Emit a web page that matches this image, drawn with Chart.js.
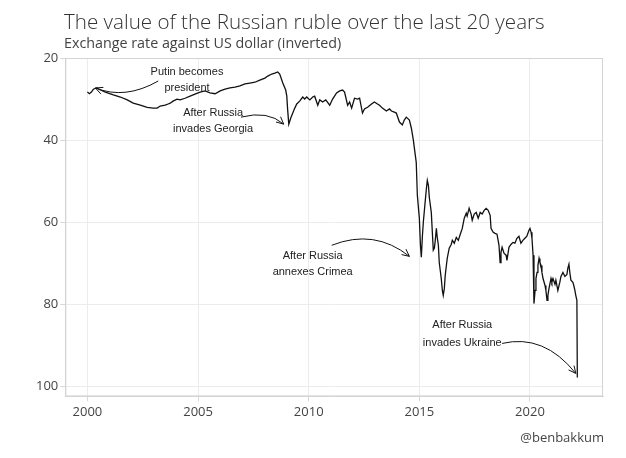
<!DOCTYPE html>
<html>
<head>
<meta charset="utf-8">
<script src="https://cdn.jsdelivr.net/npm/chart.js@4"></script>
<style>
html,body{margin:0;padding:0;background:#fff}
#wrap{width:626px;height:458px;position:relative}
</style>
</head>
<body>
<div id="wrap"><canvas id="c" width="626" height="458"></canvas></div>
<script>
// ---- data ----
const years = [
2000.00,2000.09,2000.18,2000.27,2000.41,2000.59,2000.81,2001.17,2001.49,2001.80,
2002.07,2002.39,2002.70,2002.97,2003.15,2003.29,2003.51,2003.65,2003.74,2003.87,
2004.05,2004.19,2004.41,2004.64,2004.86,2005.09,2005.32,2005.54,2005.77,2006.00,
2006.22,2006.44,2006.67,2006.89,2007.12,2007.34,2007.57,2007.79,2008.02,2008.15,
2008.33,2008.47,2008.60,2008.69,2008.83,2008.96,2009.01,2009.05,2009.10,2009.19,
2009.28,2009.37,2009.46,2009.59,2009.73,2009.82,2009.91,2010.05,2010.18,2010.27,
2010.41,2010.50,2010.63,2010.77,2010.95,2011.08,2011.26,2011.40,2011.53,2011.62,
2011.76,2011.85,2011.94,2012.07,2012.21,2012.30,2012.43,2012.52,2012.66,2012.84,
2012.97,2013.11,2013.20,2013.33,2013.51,2013.65,2013.74,2013.87,2013.96,2014.10,
2014.23,2014.32,2014.41,2014.55,2014.64,2014.73,2014.77,2014.86,2014.91,2014.95,
2015.00,2015.05,2015.09,2015.14,2015.18,2015.27,2015.32,2015.36,2015.41,2015.45,
2015.54,2015.63,2015.68,2015.72,2015.77,2015.81,2015.86,2015.90,2015.99,2016.04,
2016.08,2016.13,2016.17,2016.26,2016.35,2016.44,2016.49,2016.58,2016.67,2016.76,
2016.85,2016.94,2017.03,2017.12,2017.16,2017.25,2017.34,2017.39,2017.48,2017.57,
2017.66,2017.75,2017.84,2017.93,2018.02,2018.11,2018.20,2018.24,2018.33,2018.42,
2018.51,2018.60,2018.65,2018.69,2018.74,2018.83,2018.92,2018.96,2019.05,2019.14,
2019.23,2019.32,2019.41,2019.50,2019.59,2019.68,2019.77,2019.86,2019.95,2020.00,
2020.05,2020.09,2020.14,2020.18,2020.23,2020.27,2020.32,2020.36,2020.41,2020.45,
2020.50,2020.54,2020.59,2020.68,2020.72,2020.77,2020.81,2020.86,2020.95,2020.99,
2021.04,2021.13,2021.17,2021.26,2021.35,2021.40,2021.49,2021.58,2021.67,2021.71,
2021.76,2021.80,2021.85,2021.94,2021.98,2022.03,2022.07,2022.12,2022.14
];
const rubPerUsd = [
28.3,28.7,28.3,27.6,27.3,27.8,28.3,29.0,29.5,30.2,
31.0,31.5,32.0,32.2,32.2,31.7,31.5,31.2,31.0,30.5,
30.0,30.2,29.8,29.3,28.8,28.3,28.0,28.5,28.7,28.0,
27.6,27.3,27.1,26.8,26.3,26.1,25.9,25.4,24.9,24.4,
23.9,23.7,23.4,23.9,26.1,27.8,29.3,32.7,36.1,34.6,
33.4,32.2,31.2,30.5,29.5,30.0,29.5,30.2,29.5,29.3,
31.5,30.2,30.7,30.2,31.5,30.0,28.5,28.0,27.8,28.3,
31.5,30.7,32.2,29.8,30.0,29.8,33.4,32.4,32.0,31.2,
30.7,31.2,31.5,32.2,32.9,32.4,32.9,33.2,33.4,35.6,
36.3,35.1,34.4,35.1,37.1,40.0,41.7,45.4,53.4,55.9,
59.0,65.6,68.5,63.2,60.0,54.6,51.7,49.8,51.0,53.9,
57.6,66.8,66.3,64.4,61.5,63.7,65.6,69.8,73.7,76.6,
77.8,76.1,72.9,68.8,66.3,65.4,64.4,65.1,63.7,64.4,
62.9,61.5,59.0,57.8,58.5,56.6,58.0,59.5,58.0,57.6,
59.0,57.6,58.0,57.1,56.6,57.1,58.3,61.5,62.4,62.7,
62.9,65.6,69.8,67.3,66.1,67.6,68.0,69.3,66.1,65.4,
64.9,65.1,63.9,63.4,65.1,64.4,63.9,63.4,62.0,61.5,
62.4,63.9,68.0,79.8,76.6,73.7,72.2,70.5,68.8,69.8,
70.5,72.2,73.7,75.4,76.6,79.0,77.8,76.1,73.7,74.6,
73.7,75.1,74.1,76.6,74.6,73.2,72.2,73.2,72.7,71.2,
70.2,72.2,74.1,74.6,75.4,76.6,77.8,79.0,97.8
];
const xTickValues = [2000, 2005, 2010, 2015, 2020];
const yTickValues = [20, 40, 60, 80, 100];

const titleText = 'The value of the Russian ruble over the last 20 years';
const subtitleText = 'Exchange rate against US dollar (inverted)';
const creditText = '@benbakkum';

// annotation labels and where they sit (in data units: year, rate)
const noteLines = [
  ['Putin becomes', 'president'],
  ['After Russia', 'invades Georgia'],
  ['After Russia', 'annexes Crimea'],
  ['After Russia', 'invades Ukraine']
];
const noteAt = [[2004.50, 23.4, 27.3],[2005.68, 33.4, 37.3],[2010.18, 68.3, 72.0],[2016.94, 85.1, 89.5]];
// arrow: start, control, end (year, rate)
const noteArrows = [
  [[2003.20, 25.6],[2001.71, 30.2],[2000.36, 27.3]],
  [[2006.94, 34.4],[2008.15, 32.7],[2008.87, 36.1]],
  [[2011.04, 65.6],[2012.97, 61.5],[2014.55, 68.3]],
  [[2018.74, 89.5],[2020.63, 87.1],[2022.07, 96.8]]
];

const decor = {
  id: 'decor',
  afterDraw(chart) {
    const {ctx, chartArea: a, scales: {x, y}} = chart;
    ctx.save();
    // frame
    ctx.strokeStyle = '#d4d4d4';
    ctx.lineWidth = 1;
    ctx.strokeRect(a.left + 0.5, a.top + 0.5, a.right - a.left - 1, a.bottom - a.top - 1);
    // titles
    ctx.fillStyle = '#333';
    ctx.textAlign = 'left';
    ctx.textBaseline = 'alphabetic';
    ctx.font = '300 20.6px "Open Sans"';
    ctx.fillText(titleText, 64, 29);
    ctx.fillStyle = '#444';
    ctx.font = '14.3px "Open Sans"';
    ctx.fillText(subtitleText, 64, 48);
    ctx.textAlign = 'right';
    ctx.font = '13px "Open Sans"';
    ctx.fillStyle = '#444';
    ctx.fillText(creditText, a.right + 1, 442);
    // notes
    ctx.fillStyle = '#222';
    ctx.textAlign = 'center';
    ctx.textBaseline = 'middle';
    ctx.font = '11px "Liberation Sans", Arial, sans-serif';
    noteLines.forEach((lines, i) => {
      const cx = x.getPixelForValue(noteAt[i][0]);
      ctx.fillText(lines[0], cx, y.getPixelForValue(noteAt[i][1]));
      ctx.fillText(lines[1], cx, y.getPixelForValue(noteAt[i][2]));
    });
    ctx.strokeStyle = '#111';
    ctx.lineWidth = 1;
    noteArrows.forEach(arr => {
      const p = arr.map(q => [x.getPixelForValue(q[0]), y.getPixelForValue(q[1])]);
      ctx.beginPath();
      ctx.moveTo(p[0][0], p[0][1]);
      ctx.quadraticCurveTo(p[1][0], p[1][1], p[2][0], p[2][1]);
      ctx.stroke();
      const ang = Math.atan2(p[2][1] - p[1][1], p[2][0] - p[1][0]);
      const L = 8, w = 0.45;
      ctx.beginPath();
      ctx.moveTo(p[2][0] - L * Math.cos(ang - w), p[2][1] - L * Math.sin(ang - w));
      ctx.lineTo(p[2][0], p[2][1]);
      ctx.lineTo(p[2][0] - L * Math.cos(ang + w), p[2][1] - L * Math.sin(ang + w));
      ctx.stroke();
    });
    ctx.restore();
  }
};

new Chart(document.getElementById('c'), {
  type: 'line',
  data: {
    datasets: [{
      data: years.map((yr, i) => ({x: yr, y: rubPerUsd[i]})),
      borderColor: '#111',
      borderWidth: 1.3,
      pointRadius: 0,
      tension: 0,
      fill: false
    }]
  },
  options: {
    responsive: false,
    animation: false,
    devicePixelRatio: 1,
    layout: {padding: {left: 34, right: 23, top: 58, bottom: 35}},
    plugins: {legend: {display: false}, tooltip: {enabled: false}},
    scales: {
      x: {
        type: 'linear',
        min: 1999.0,
        max: 2023.3,
        afterBuildTicks: ax => { ax.ticks = xTickValues.map(v => ({value: v})); },
        grid: {color: '#ececec', tickColor: '#d8d8d8', tickLength: 5},
        border: {color: '#d4d4d4'},
        ticks: {font: {family: 'Open Sans', size: 13}, color: '#444', padding: 3, maxRotation: 0,
                callback: v => String(v)}
      },
      y: {
        reverse: true,
        min: 20,
        max: 102.4,
        afterBuildTicks: ax => { ax.ticks = yTickValues.map(v => ({value: v})); },
        grid: {color: '#ececec', tickColor: '#d8d8d8', tickLength: 5},
        border: {color: '#d4d4d4'},
        ticks: {font: {family: 'Open Sans', size: 13}, color: '#444', padding: 2,
                callback: v => String(v)}
      }
    }
  },
  plugins: [decor]
});
</script>
</body>
</html>
